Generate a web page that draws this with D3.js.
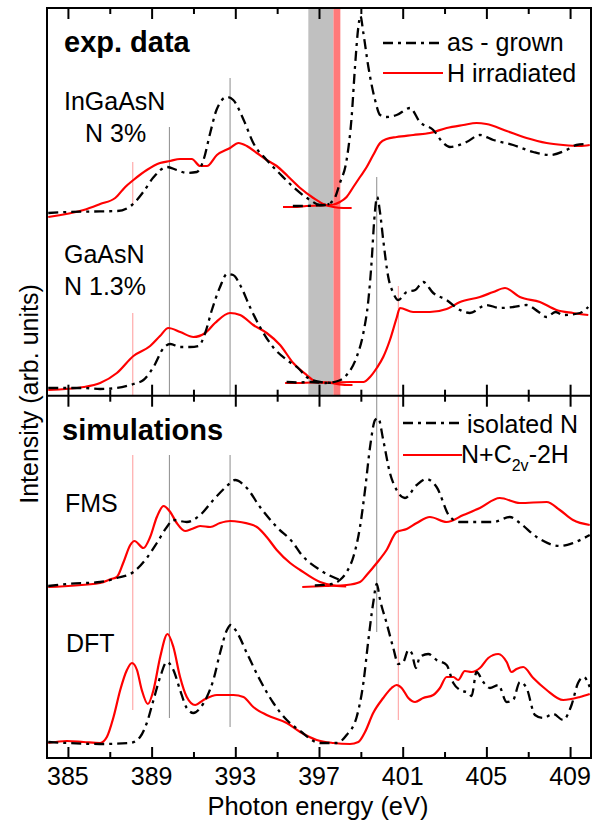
<!DOCTYPE html>
<html><head><meta charset="utf-8">
<script src="https://cdn.jsdelivr.net/npm/d3@7"></script>
<style>
body{margin:0;background:#fff}
text{font-family:"Liberation Sans",Arial,Helvetica,sans-serif;fill:#000}
</style>
</head><body>
<svg id="c" width="601" height="823"></svg>
<script>
// ---------- data (photon energy in eV, intensity in arb. units incl. vertical offset) ----------
const majorTicks = [385, 389, 393, 397, 401, 405, 409];
const tickLabels = ["385", "389", "393", "397", "401", "405", "409"];
const minorTicks = [387, 391, 395, 399, 403, 407];

// exp. data: InGaAsN N 3%
const inAsGrownLow = [[384.06,54.5],[385.0,54.6],[386.2,54.65],[387.36,54.7],[388.06,55.3],[388.6,56.6],[389.1,58.1],[389.73,59.1],[390.2,58.8],[390.68,58.5],[391.16,58.6],[391.48,59.8],[391.8,62.5],[392.1,64.8],[392.6,66.1],[392.9,65.8],[393.4,63.8],[393.86,61.5],[394.5,59.8],[395.14,58.4],[395.77,57.1],[396.57,55.8],[397.05,55.3],[397.5,55.4]];
const inAsGrownHigh = [[395.75,55.2],[396.3,55.2],[396.8,55.25],[397.3,55.3],[397.7,55.8],[398.0,57.5],[398.32,59.8],[398.56,64.1],[398.72,69.1],[398.88,73.1],[398.98,74.2],[399.12,72.5],[399.36,69.1],[399.68,65.8],[399.92,64.3],[400.23,64.1],[400.71,64.3],[401.35,65.0],[401.82,63.6],[402.46,62.8],[402.94,61.5],[403.26,61.1],[404.05,61.6],[404.69,62.3],[405.33,61.8],[406.28,61.3],[407.24,60.6],[408.03,60.3],[408.83,60.8],[409.3,61.3],[409.78,61.4]];
const inHirrLow = [[384.06,54.1],[385.75,54.8],[386.54,55.4],[387.26,56.0],[387.74,57.1],[388.13,57.8],[388.77,58.8],[389.4,59.5],[389.88,59.7],[390.36,59.9],[390.92,59.9],[391.32,59.2],[391.64,59.2],[392.12,60.3],[392.75,61.0],[393.15,61.5],[393.55,61.2],[394.03,60.5],[394.5,59.8],[394.98,59.2],[395.5,58.2],[396.1,57.0],[396.73,56.0],[397.2,55.4],[397.69,55.1],[398.16,55.0],[398.56,55.0]];
const inHirrHigh = [[395.28,55.1],[395.8,55.1],[396.4,55.2],[397.0,55.25],[397.7,55.35],[398.0,55.6],[398.32,56.1],[398.64,57.1],[398.96,58.1],[399.28,59.1],[399.59,60.3],[399.92,61.5],[400.23,61.9],[400.71,62.1],[401.5,62.3],[402.3,62.5],[403.1,63.0],[403.9,63.3],[404.53,63.5],[405.0,63.4],[405.97,62.7],[406.92,62.0],[407.88,61.5],[408.67,61.3],[409.47,61.2],[409.94,61.3]];

// exp. data: GaAsN N 1.3%
const gaAsGrownLow = [[384.06,37.0],[385.75,37.0],[386.54,36.9],[387.34,37.0],[388.13,37.4],[388.61,37.8],[389.09,39.1],[389.57,41.0],[389.89,41.4],[390.37,41.1],[390.84,41.1],[391.24,41.2],[391.56,42.5],[391.88,44.8],[392.27,47.1],[392.6,48.4],[392.9,48.3],[393.23,47.3],[393.7,45.1],[394.18,43.1],[394.8,41.1],[395.46,39.8],[396.0,39.0],[396.41,38.1],[397.05,37.6],[397.69,37.5]];
const gaAsGrownHigh = [[395.45,37.6],[396.0,37.55],[396.6,37.6],[397.3,37.5],[397.9,37.7],[398.32,38.3],[398.8,40.1],[399.12,42.5],[399.36,45.8],[399.52,49.8],[399.64,53.8],[399.78,56.1],[399.92,54.5],[400.07,51.8],[400.31,48.1],[400.55,46.5],[400.79,45.8],[401.19,46.6],[401.6,46.8],[401.98,47.6],[402.46,46.5],[403.1,45.8],[403.74,44.8],[404.21,44.5],[405.0,45.3],[405.64,45.0],[406.28,45.1],[406.92,45.3],[407.5,44.6],[407.88,44.1],[408.3,44.6],[408.67,44.3],[409.47,44.5],[409.87,45.1]];
const gaHirrLow = [[384.06,36.8],[385.75,37.1],[386.54,37.5],[387.34,38.5],[388.13,40.2],[388.93,41.2],[389.4,42.2],[389.8,43.0],[390.37,42.6],[391.0,42.1],[391.56,42.5],[392.03,43.5],[392.75,44.5],[393.23,44.3],[393.86,43.3],[394.5,42.5],[395.14,41.3],[395.77,39.5],[396.41,38.3],[396.89,37.6],[397.53,37.5],[398.32,37.3],[398.6,37.3]];
const gaHirrHigh = [[395.38,37.5],[396.0,37.5],[396.7,37.55],[397.5,37.55],[398.5,37.6],[399.12,37.6],[399.44,38.1],[399.76,39.0],[400.07,40.1],[400.39,41.8],[400.71,44.0],[400.87,45.0],[401.5,44.6],[402.3,44.6],[403.1,44.9],[403.74,45.6],[404.69,46.1],[405.33,46.6],[405.89,47.0],[406.6,46.1],[407.56,45.6],[408.35,44.8],[409.14,44.5],[409.87,44.3]];

// simulations: FMS
const fmsIsolatedLow = [[384.06,17.2],[384.95,17.4],[386.54,17.6],[387.34,18.0],[388.13,18.6],[388.77,20.0],[389.25,21.5],[389.73,23.1],[390.04,23.8],[390.68,23.6],[391.32,24.3],[391.95,25.8],[392.6,27.2],[392.99,27.8],[393.55,27.0],[394.18,25.1],[394.98,23.1],[395.77,21.5],[396.1,20.5],[397.05,18.8],[398.0,17.8]];
const fmsIsolatedHigh = [[396.8,17.25],[397.6,17.4],[398.0,17.8],[398.32,18.6],[398.64,20.1],[398.96,23.1],[399.2,26.8],[399.44,31.1],[399.68,33.8],[399.83,34.0],[400.07,31.8],[400.39,28.5],[400.71,26.8],[401.11,26.0],[401.67,27.3],[402.14,27.9],[402.62,27.1],[403.26,24.1],[403.74,23.6],[404.69,23.6],[405.33,23.6],[406.12,24.1],[406.6,23.5],[407.4,22.1],[408.51,21.2],[409.14,21.5],[409.94,22.3]];
const fmsC2vLow = [[384.06,17.1],[386.54,17.5],[387.07,17.9],[387.34,18.1],[387.66,19.6],[387.98,21.3],[388.18,21.7],[388.61,21.0],[388.93,22.1],[389.25,24.1],[389.57,25.2],[389.89,24.6],[390.2,23.5],[390.6,22.7],[390.92,22.9],[391.32,23.2],[391.8,23.1],[392.27,23.5],[392.75,23.7],[393.23,23.6],[394.03,23.1],[394.5,22.1],[394.98,20.8],[395.62,19.5],[396.1,18.8],[397.05,17.6],[397.85,17.2],[398.3,17.15]];
const fmsC2vHigh = [[396.2,17.1],[397.3,17.2],[398.32,17.3],[398.96,17.6],[399.28,18.3],[399.76,19.5],[400.23,20.8],[400.71,22.6],[401.19,22.9],[401.67,23.5],[402.3,24.1],[403.1,23.6],[403.9,24.3],[404.69,25.0],[405.64,26.0],[406.6,25.5],[407.88,25.6],[408.51,24.8],[409.14,23.8],[409.94,23.3]];

// simulations: DFT
const dftIsolated = [[384.06,1.6],[384.95,1.5],[386.54,1.4],[387.98,1.5],[388.45,2.1],[388.77,3.5],[389.09,5.8],[389.41,8.1],[389.73,9.6],[390.04,8.8],[390.36,6.8],[390.68,5.0],[391.0,4.5],[391.32,5.0],[391.64,6.1],[391.95,7.8],[392.27,10.5],[392.6,12.8],[392.78,13.3],[393.07,12.6],[393.55,10.5],[394.18,7.8],[394.82,5.5],[395.46,3.8],[396.1,2.7],[397.05,1.5],[397.85,1.5],[398.32,2.3],[398.8,4.1],[399.12,7.5],[399.36,11.8],[399.59,15.5],[399.76,17.4],[399.92,15.8],[400.23,13.5],[400.55,11.0],[400.79,9.4],[401.03,9.6],[401.27,10.8],[401.43,10.5],[401.63,9.0],[401.82,10.1],[402.22,10.4],[402.62,9.8],[403.1,9.3],[403.42,7.5],[403.74,6.8],[404.13,6.5],[404.29,6.2],[404.53,8.6],[404.85,7.6],[405.17,7.0],[405.57,7.3],[405.97,5.6],[406.28,5.8],[406.6,7.6],[406.92,7.0],[407.32,4.3],[407.71,4.0],[408.19,4.4],[408.67,3.8],[409.07,5.3],[409.38,7.5],[409.65,8.1],[409.94,7.1]];
const dftC2v = [[384.06,1.5],[384.95,1.7],[385.75,1.6],[386.54,1.5],[386.86,2.1],[387.18,4.1],[387.5,6.8],[387.82,8.8],[388.06,9.5],[388.3,8.8],[388.53,6.8],[388.82,5.4],[389.09,6.8],[389.41,10.1],[389.76,12.4],[390.04,11.1],[390.36,8.1],[390.68,6.1],[391.08,5.3],[391.48,5.8],[392.12,6.3],[392.91,6.3],[393.39,6.1],[393.86,5.1],[394.5,4.3],[395.46,3.5],[396.1,2.6],[396.89,1.8],[397.69,1.5],[398.48,1.4],[398.88,1.6],[399.2,2.6],[399.59,4.5],[400.07,6.0],[400.47,7.0],[400.71,7.3],[400.95,7.0],[401.27,6.0],[401.59,5.6],[401.98,6.0],[402.46,6.3],[402.78,7.0],[403.1,8.1],[403.42,8.1],[403.65,7.8],[403.97,8.7],[404.29,8.6],[404.69,9.0],[405.09,10.0],[405.57,10.4],[405.97,9.6],[406.2,8.6],[406.44,8.9],[406.76,9.1],[407.24,8.0],[407.88,6.8],[408.67,5.8],[409.47,6.1],[409.94,6.4]];

// marker lines: [energy, intensity from, intensity to]
const greyMarkers = [[389.85,63.1,36.3],[392.75,68.0,36.3],[399.76,58.1,12.6],[389.85,30.3,4.0],[392.75,30.3,3.1]];
const redMarkers = [[388.1,59.6,55.3],[388.1,44.5,36.3],[400.79,47.2,3.8],[388.1,30.3,4.8]];
// shaded energy bands in exp. panel: [from, to]
const greyBand = [396.49, 397.69];
const redBand = [397.69, 398.02];
const panelSplit = 36.23; // intensity level of the panel divider
const yTop = 75;

// ---------- drawing ----------
const svg = d3.select("#c");
const L = 47, R = 591, T = 8, B = 758;
const x = d3.scaleLinear().domain([384, 410]).range([L, R]);
const y = d3.scaleLinear().domain([0, yTop]).range([B, T]);

// bands
svg.append("rect").attr("x", x(greyBand[0])).attr("width", x(greyBand[1]) - x(greyBand[0]))
  .attr("y", y(yTop)).attr("height", y(panelSplit) - y(yTop)).attr("fill", "#c0c0c0");
svg.append("rect").attr("x", x(redBand[0])).attr("width", x(redBand[1]) - x(redBand[0]))
  .attr("y", y(yTop)).attr("height", y(panelSplit) - y(yTop)).attr("fill", "#ff7a7a");

// marker lines
svg.append("g").selectAll("line").data(greyMarkers).join("line")
  .attr("x1", d => x(d[0])).attr("x2", d => x(d[0]))
  .attr("y1", d => y(d[1])).attr("y2", d => y(d[2]))
  .attr("stroke", "#8c8c8c").attr("stroke-width", 1);
svg.append("g").selectAll("line").data(redMarkers).join("line")
  .attr("x1", d => x(d[0])).attr("x2", d => x(d[0]))
  .attr("y1", d => y(d[1])).attr("y2", d => y(d[2]))
  .attr("stroke", "#ff9a9a").attr("stroke-width", 1);

// spectra
const line = d3.line().x(d => x(d[0])).y(d => y(d[1])).curve(d3.curveMonotoneX);
const blackSeries = [inAsGrownLow, inAsGrownHigh, gaAsGrownLow, gaAsGrownHigh, fmsIsolatedLow, fmsIsolatedHigh, dftIsolated];
const redSeries = [inHirrLow, inHirrHigh, gaHirrLow, gaHirrHigh, fmsC2vLow, fmsC2vHigh, dftC2v];
const dash = "10,5,3,5";
svg.append("g").selectAll("path").data(redSeries).join("path")
  .attr("d", line).attr("fill", "none").attr("stroke", "#ff0000").attr("stroke-width", 2.2)
  .attr("stroke-linejoin", "round");
svg.append("g").selectAll("path").data(blackSeries).join("path")
  .attr("d", line).attr("fill", "none").attr("stroke", "#000").attr("stroke-width", 2.3)
  .attr("stroke-dasharray", dash);

// axes / ticks
function tickAxis(axisFn, yPos, values, size) {
  const g = svg.append("g").attr("transform", `translate(0,${yPos})`)
    .call(axisFn(x).tickValues(values).tickSize(size).tickFormat(""));
  g.select(".domain").remove();
  g.selectAll(".tick line").attr("stroke", "#000").attr("stroke-width", 2);
  return g;
}
tickAxis(d3.axisBottom, B, majorTicks, -11);
tickAxis(d3.axisBottom, B, minorTicks, -6);
tickAxis(d3.axisTop, T, majorTicks, -11);
tickAxis(d3.axisTop, T, minorTicks, -6);
const yMid = y(panelSplit);
tickAxis(d3.axisBottom, yMid, majorTicks, -11);
tickAxis(d3.axisBottom, yMid, minorTicks, -6);
tickAxis(d3.axisTop, yMid, majorTicks, -11);
tickAxis(d3.axisTop, yMid, minorTicks, -6);

// tick labels
svg.append("g").selectAll("text").data(majorTicks).join("text")
  .attr("x", d => x(d)).attr("y", 785).attr("text-anchor", "middle")
  .attr("font-size", 25).text((d, i) => tickLabels[i]);

// frame
svg.append("rect").attr("x", L).attr("y", T).attr("width", R - L).attr("height", B - T)
  .attr("fill", "none").attr("stroke", "#000").attr("stroke-width", 2);
svg.append("line").attr("x1", L).attr("x2", R).attr("y1", yMid).attr("y2", yMid)
  .attr("stroke", "#000").attr("stroke-width", 2);

// axis titles
svg.append("text").attr("x", (L + R) / 2 - 1).attr("y", 815).attr("text-anchor", "middle")
  .attr("font-size", 25.5).text("Photon energy (eV)");
svg.append("text").attr("transform", "translate(38,394) rotate(-90)").attr("text-anchor", "middle")
  .attr("font-size", 25).text("Intensity (arb. units)");

// panel labels
const lab = (tx, ty, s, size, bold) => svg.append("text").attr("x", tx).attr("y", ty)
  .attr("font-size", size).attr("font-weight", bold ? "bold" : "normal").text(s);
lab(64, 52, "exp. data", 29, true);
lab(64, 110, "InGaAsN", 25);
lab(85, 142, "N 3%", 25);
lab(64, 263, "GaAsN", 25);
lab(64, 295, "N 1.3%", 25);
lab(62, 440, "simulations", 29, true);
lab(65, 512, "FMS", 25);
lab(66, 652, "DFT", 25);

// legends
function legendLine(x1, x2, yy, red) {
  const l = svg.append("line").attr("x1", x1).attr("x2", x2).attr("y1", yy).attr("y2", yy)
    .attr("stroke", red ? "#ff0000" : "#000").attr("stroke-width", red ? 2.2 : 2.3);
  if (!red) l.attr("stroke-dasharray", dash);
}
legendLine(383, 443, 43, false);
lab(447, 51, "as - grown", 25);
legendLine(383, 443, 73, true);
lab(447, 82, "H irradiated", 25);
legendLine(403, 462, 423, false);
lab(467, 433, "isolated N", 25);
legendLine(403, 462, 455, true);
const t = svg.append("text").attr("x", 461).attr("y", 463).attr("font-size", 25);
t.append("tspan").text("N+C");
t.append("tspan").attr("font-size", 16).attr("dy", 8).text("2v");
t.append("tspan").attr("dy", -8).text("-2H");
</script>
</body></html>
